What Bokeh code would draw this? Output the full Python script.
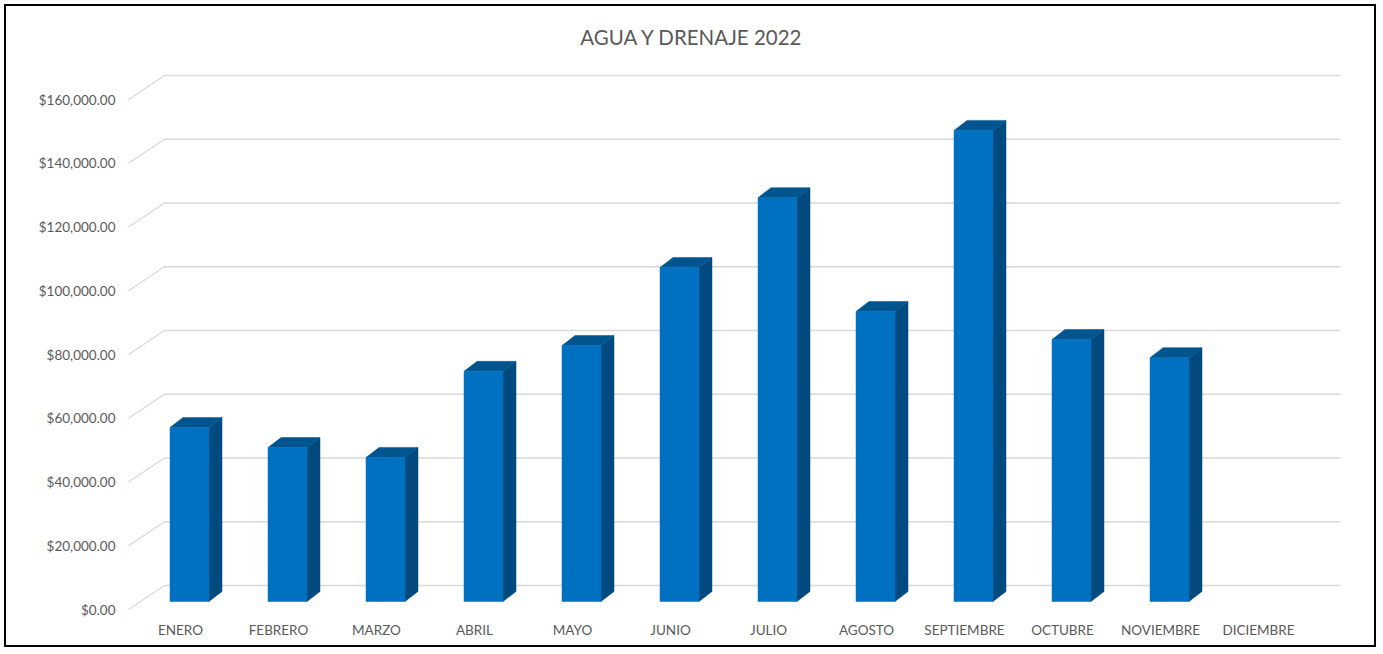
from bokeh.plotting import figure
from bokeh.models import FixedTicker, NumeralTickFormatter, Range1d, Label
from bokeh.embed import file_html
from bokeh.resources import INLINE

# ---- data ----
months = ["ENERO", "FEBRERO", "MARZO", "ABRIL", "MAYO", "JUNIO", "JULIO",
          "AGOSTO", "SEPTIEMBRE", "OCTUBRE", "NOVIEMBRE", "DICIEMBRE"]
values = [54600, 48300, 45200, 72200, 80300, 104800, 126700,
          91000, 147800, 82200, 76500, 0]
y_ticks = [0, 20000, 40000, 60000, 80000, 100000, 120000, 140000, 160000]
title_text = "AGUA Y DRENAJE 2022"

# ---- geometry (pixel-based styling converted to data units) ----
OX, OY = 6, 6               # page offset of the canvas (margin + border)
PX_X = 98.0                 # pixels per category
VPP = 1000 / 3.1875         # value units per pixel
FRONT_LIFT = 8 * VPP        # bar front face above front floor edge
WALL_DX, WALL_DY = 33 / PX_X, 24 * VPP
DEPTH_DX, DEPTH_DY = 13 / PX_X, 10 * VPP
BAR_OFF = 9 / PX_X
BAR_HW = 19.5 / PX_X
DIAG_X0 = -3 / PX_X
X_ORIGIN, Y_ORIGIN = 131 - OX, 609 - OY   # canvas pixel of x=0 / y=0

W, H = 1372, 643
ML, MR, MT, MB = 115, 6, 8, 33
frame_w = W - ML - MR
x0 = (ML - X_ORIGIN) / PX_X
x1 = x0 + frame_w / PX_X
y0 = (Y_ORIGIN - (H - MB)) * VPP
y1 = (Y_ORIGIN - MT) * VPP

p = figure(width=W, height=H, output_backend="svg", toolbar_location=None,
           x_range=Range1d(x0, x1), y_range=Range1d(y0, y1),
           min_border_left=ML, min_border_right=MR,
           min_border_top=MT, min_border_bottom=MB,
           background_fill_color="white", border_fill_color="white")
p.outline_line_color = None
p.xgrid.visible = False
p.ygrid.visible = False
p.styles = {"border": "2px solid #000000", "margin-left": "4px",
            "margin-top": "4px"}

# title (centred on the whole chart)
p.add_layout(Label(x=(691.5 - OX - X_ORIGIN) / PX_X,
                   y=(Y_ORIGIN - (36 - OY)) * VPP,
                   text=title_text, text_align="center",
                   text_baseline="middle", text_font="Lato",
                   text_font_size="20.5px", text_color="#595959"))

# skewed gridlines (floor edge -> back wall)
gxs, gys = [], []
for g in y_ticks:
    gxs.append([DIAG_X0, WALL_DX, WALL_DX + len(months)])
    gys.append([g, g + WALL_DY, g + WALL_DY])
p.multi_line(gxs, gys, line_color="#D9D9D9", line_width=1.3)

# 3D bars
fx, fy, sx, sy, tx, ty = [], [], [], [], [], []
for i, v in enumerate(values):
    if v <= 0:
        continue
    c = i + 0.5 + BAR_OFF
    l, r = c - BAR_HW, c + BAR_HW
    b, t = FRONT_LIFT, FRONT_LIFT + v
    fx.append([l, r, r, l]); fy.append([b, b, t, t])
    sx.append([r, r + DEPTH_DX, r + DEPTH_DX, r])
    sy.append([b, b + DEPTH_DY, t + DEPTH_DY, t])
    tx.append([l, l + DEPTH_DX, r + DEPTH_DX, r])
    ty.append([t, t + DEPTH_DY, t + DEPTH_DY, t])
p.patches(sx, sy, fill_color="#004A80", line_color="#004A80", line_width=0.5)
p.patches(tx, ty, fill_color="#00558F", line_color="#00558F", line_width=0.5)
p.patches(fx, fy, fill_color="#0070C0", line_color="#0070C0", line_width=0.5)

# axes
ya = p.yaxis[0]
ya.ticker = FixedTicker(ticks=y_ticks)
ya.formatter = NumeralTickFormatter(format="$0,0.00")
ya.axis_line_color = None
ya.major_tick_line_color = None
ya.minor_tick_line_color = None
ya.major_tick_out = 0
ya.major_label_standoff = 6
ya.major_label_text_font = "Lato"
ya.major_label_text_font_size = "13.5px"
ya.major_label_text_color = "#595959"

xa = p.xaxis[0]
xt = [i + 0.5 for i in range(len(months))]
xa.ticker = FixedTicker(ticks=xt)
xa.major_label_overrides = {t: m for t, m in zip(xt, months)}
xa.axis_line_color = None
xa.major_tick_line_color = None
xa.minor_tick_line_color = None
xa.major_tick_out = 0
xa.major_label_standoff = 5
xa.major_label_text_font = "Lato"
xa.major_label_text_font_size = "13.5px"
xa.major_label_text_color = "#595959"

open("out.html", "w").write(file_html(p, INLINE))
